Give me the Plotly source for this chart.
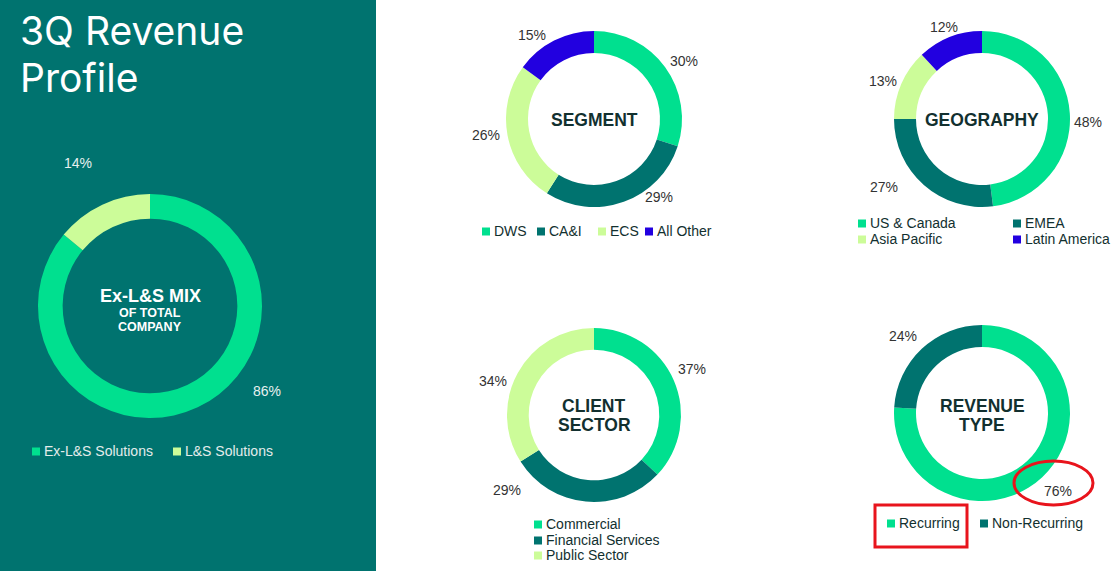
import plotly.graph_objects as go

W, H = 1115, 571

GREEN = "#00E08F"
LIGHT = "#CCFC99"
TEAL = "#00736F"
BLUE = "#2200E0"
DARK_TXT = "#12302F"
LBL_TXT = "#333333"

# ---- data ----
mix_labels = ["Ex-L&S Solutions", "L&S Solutions"]
mix_values = [86, 14]
mix_colors = [GREEN, LIGHT]

segment_labels = ["DWS", "CA&I", "ECS", "All Other"]
segment_values = [30, 29, 26, 15]
segment_colors = [GREEN, TEAL, LIGHT, BLUE]

geo_labels = ["US & Canada", "EMEA", "Asia Pacific", "Latin America"]
geo_values = [48, 27, 13, 12]
geo_colors = [GREEN, TEAL, LIGHT, BLUE]

client_labels = ["Commercial", "Financial Services", "Public Sector"]
client_values = [37, 29, 34]
client_colors = [GREEN, TEAL, LIGHT]

revenue_labels = ["Recurring", "Non-Recurring"]
revenue_values = [76, 24]
revenue_colors = [GREEN, TEAL]


def dom(cx, cy, r):
    return dict(x=[(cx - r) / W, (cx + r) / W], y=[1 - (cy + r) / H, 1 - (cy - r) / H])


def px(x):
    return x / W


def py(y):
    return 1 - y / H


FONT = "Liberation Sans, Arial, sans-serif"

fig = go.Figure()
ann = []
shapes = [
    dict(type="rect", xref="paper", yref="paper", x0=0, x1=px(376), y0=0, y1=1,
         fillcolor=TEAL, line=dict(width=0), layer="below"),
]


def text(x, y, t, size, color, bold=False, family=FONT, xanchor="center"):
    if bold:
        t = "<b>" + t + "</b>"
    ann.append(dict(x=px(x), y=py(y), xref="paper", yref="paper", text=t,
                    showarrow=False, xanchor=xanchor, yanchor="middle",
                    font=dict(family=family, size=size, color=color)))


def add_donut(labels, values, colors, cx, cy, r, hole, txtcolor, label_pos):
    fig.add_trace(go.Pie(
        labels=labels, values=values, hole=hole, sort=False,
        direction="clockwise", rotation=0,
        marker=dict(colors=colors, line=dict(width=0)),
        textinfo="none",
        showlegend=False, domain=dom(cx, cy, r),
        hovertemplate="%{label}: %{value}%<extra></extra>",
    ))
    # percentage labels (text taken from the data values)
    for v, (lx, ly) in zip(values, label_pos):
        text(lx, ly, "%d%%" % v, 14, txtcolor)


add_donut(mix_labels, mix_values, mix_colors, 150, 306, 112, 0.78, "#E8F0EF",
          [(267, 391), (78, 163)])
add_donut(segment_labels, segment_values, segment_colors, 594, 119, 88, 0.75, LBL_TXT,
          [(684, 61), (659, 197), (486, 135), (532, 35)])
add_donut(geo_labels, geo_values, geo_colors, 982, 119, 88, 0.75, LBL_TXT,
          [(1088, 122), (884, 187), (883, 81), (944, 27)])
add_donut(client_labels, client_values, client_colors, 594, 415, 87, 0.75, LBL_TXT,
          [(692, 369), (507, 490), (493, 381)])
add_donut(revenue_labels, revenue_values, revenue_colors, 982, 413, 88, 0.75, LBL_TXT,
          [(1058, 491), (903, 336)])

# title
text(18, 30, "3Q Revenue", 39, "white", family="Inter, Open Sans, sans-serif", xanchor="left")
text(18, 77.5, "Profile", 39, "white", family="Inter, Open Sans, sans-serif", xanchor="left")

# centre labels
text(150, 296, "Ex-L&S MIX", 18, "white", bold=True)
text(150, 313, "OF TOTAL", 12.5, "white", bold=True)
text(150, 327, "COMPANY", 12.5, "white", bold=True)
text(594, 120, "SEGMENT", 17.5, DARK_TXT, bold=True)
text(982, 120, "GEOGRAPHY", 17.5, DARK_TXT, bold=True)
text(594, 406, "CLIENT", 17.5, DARK_TXT, bold=True)
text(594, 425, "SECTOR", 17.5, DARK_TXT, bold=True)
text(982, 406, "REVENUE", 17.5, DARK_TXT, bold=True)
text(982, 425, "TYPE", 17.5, DARK_TXT, bold=True)


def legend_items(labels, colors, positions, txtcolor):
    for lab, col, (x, y) in zip(labels, colors, positions):
        shapes.append(dict(type="rect", xref="paper", yref="paper",
                           x0=px(x), x1=px(x + 8), y0=py(y + 4.5), y1=py(y - 3.5),
                           fillcolor=col, line=dict(width=0), layer="above"))
        text(x + 10, y, lab, 14, txtcolor, xanchor="left")


legend_items(mix_labels, mix_colors, [(32, 451), (173, 451)], "#E4ECEB")
legend_items(segment_labels, segment_colors,
             [(482, 231), (537, 231), (598, 231), (645, 231)], DARK_TXT)
legend_items(geo_labels, geo_colors,
             [(858, 223), (1013, 223), (858, 239), (1013, 239)], DARK_TXT)
legend_items(client_labels, client_colors,
             [(534, 524), (534, 540), (534, 555)], DARK_TXT)
legend_items(revenue_labels, revenue_colors,
             [(887, 523), (980, 523)], DARK_TXT)

shapes += [
    dict(type="rect", xref="paper", yref="paper", x0=px(875), x1=px(967),
         y0=py(547), y1=py(505), line=dict(color="#E8141C", width=3), layer="above"),
    dict(type="circle", xref="paper", yref="paper", x0=px(1014), x1=px(1093),
         y0=py(505), y1=py(461), line=dict(color="#E8141C", width=3), layer="above"),
]

fig.update_layout(
    width=W, height=H, margin=dict(l=0, r=0, t=0, b=0),
    paper_bgcolor="white", plot_bgcolor="white",
    annotations=ann, shapes=shapes, showlegend=False,
)

fig.write_html("out.html")
